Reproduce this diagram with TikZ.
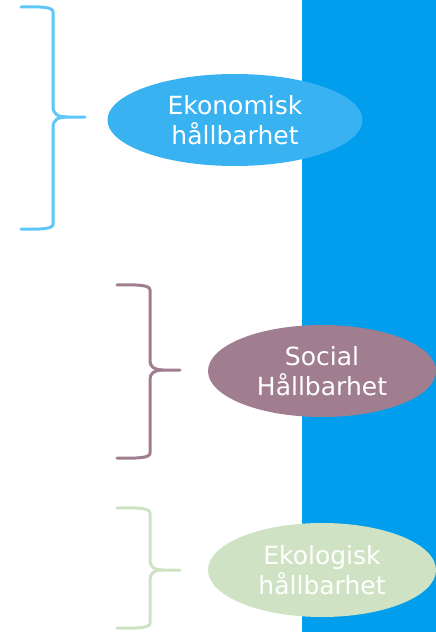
\documentclass[tikz,border=0pt]{standalone}
\usepackage{fontspec}
\setmainfont{DejaVu Sans}
\usetikzlibrary{shapes.geometric}
\definecolor{panelblue}{HTML}{009EEC}
\definecolor{ekoblue}{HTML}{38B2F1}
\definecolor{ekobrace}{HTML}{5FC6F9}
\definecolor{socpurple}{HTML}{A07E90}
\definecolor{ekogreen}{HTML}{CFE3C4}
\begin{document}
\begin{tikzpicture}[x=1pt,y=-1pt,
    pillar/.style={ellipse,inner sep=0pt,text=white,align=center,
        font=\fontsize{25}{30}\selectfont},
    bracket/.style={line width=3pt,line cap=round}]
            \useasboundingbox (0,0) rectangle (436,632);
            \fill[panelblue] (302,0) rectangle (436,632);
            % ekonomisk
            \draw[bracket,ekobrace] (21,7) .. controls (42,6.5) and (53,7) .. (53,12) -- (53,107)
                .. controls (53,114) and (58,117) .. (67,117) -- (85,117);
            \draw[bracket,ekobrace] (67,117) .. controls (58,117) and (53,120) .. (53,127) -- (53,224)
                .. controls (53,229) and (42,229.5) .. (21,229);
            \node(eko)[pillar,fill=ekoblue,minimum width=255pt,minimum height=92pt] at (235,120){Ekonomisk\\hållbarhet};
            % social
            \draw[bracket,socpurple] (117,285) .. controls (138,284.5) and (150,285) .. (150,290) -- (150,361)
                .. controls (150,367) and (155,370) .. (163,370) -- (180,370);
            \draw[bracket,socpurple] (163,370) .. controls (155,370) and (150,373) .. (150,379) -- (150,453)
                .. controls (150,458) and (138,458.5) .. (117,458);
            \node(soc)[pillar,fill=socpurple,minimum width=228pt,minimum height=92pt] at (322,371){Social\\Hållbarhet};
            % ekologisk
            \draw[bracket,ekogreen] (117,508) .. controls (138,507.5) and (150,508) .. (150,513) -- (150,561)
                .. controls (150,567) and (155,570) .. (163,570) -- (180,570);
            \draw[bracket,ekogreen] (163,570) .. controls (155,570) and (150,573) .. (150,579) -- (150,623)
                .. controls (150,628) and (138,628.5) .. (117,628);
            \node(ekol)[pillar,fill=ekogreen,minimum width=228pt,minimum height=94pt] at (322,570){Ekologisk\\hållbarhet};
        \end{tikzpicture}
\end{document}
